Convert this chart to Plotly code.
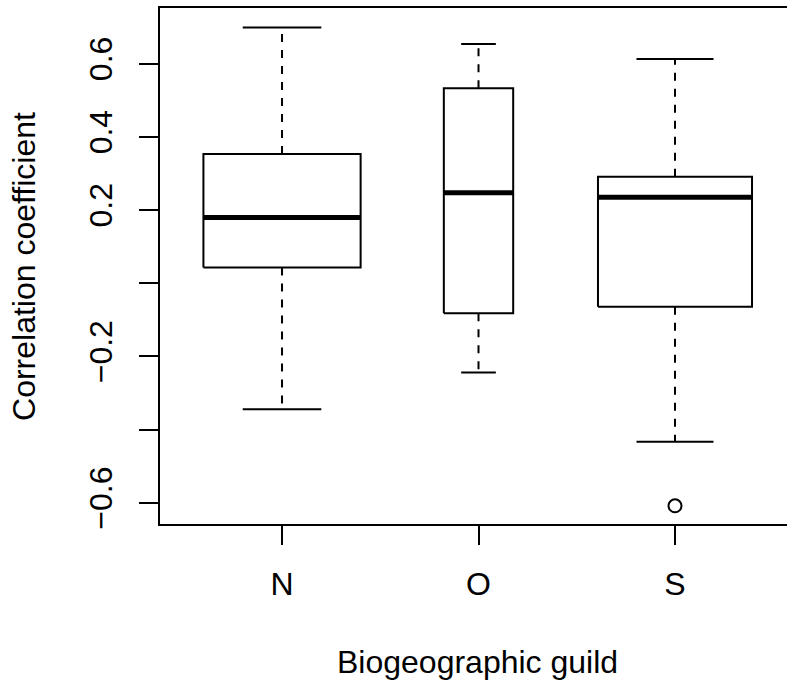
import plotly.graph_objects as go

# Summary statistics per biogeographic guild (box-and-whisker)
groups = ["N", "O", "S"]
upper_whisker = [0.699, 0.654, 0.613]
q3 = [0.353, 0.533, 0.291]
median = [0.180, 0.2475, 0.235]
q1 = [0.043, -0.082, -0.064]
lower_whisker = [-0.344, -0.244, -0.433]
box_width = [0.80, 0.353, 0.784]          # relative to group size
outlier_group = ["S"]
outlier_value = [-0.608]

y_ticks = [-0.6, -0.4, -0.2, 0.0, 0.2, 0.4, 0.6]
y_tick_text = ["\u22120.6", "", "\u22120.2", "", "0.2", "0.4", "0.6"]

FONT = "Liberation Sans, Arial, sans-serif"
FS = 32
BLACK = "#000000"

fig = go.Figure()

for i, g in enumerate(groups):
    c = i + 1
    hw = box_width[i] / 2
    cap = box_width[i] / 4
    # box
    fig.add_trace(go.Scatter(
        x=[c - hw, c + hw, c + hw, c - hw, c - hw],
        y=[q1[i], q1[i], q3[i], q3[i], q1[i]],
        mode="lines", line=dict(color=BLACK, width=2),
        fill="toself", fillcolor="white", hoverinfo="skip"))
    # median
    fig.add_trace(go.Scatter(
        x=[c - hw, c + hw], y=[median[i], median[i]],
        mode="lines", line=dict(color=BLACK, width=5), hoverinfo="skip"))
    # dashed whiskers
    fig.add_trace(go.Scatter(
        x=[c, c], y=[q3[i], upper_whisker[i]],
        mode="lines", line=dict(color=BLACK, width=2, dash="8px,8px"), hoverinfo="skip"))
    fig.add_trace(go.Scatter(
        x=[c, c], y=[q1[i], lower_whisker[i]],
        mode="lines", line=dict(color=BLACK, width=2, dash="8px,8px"), hoverinfo="skip"))
    # whisker caps
    for w in (upper_whisker[i], lower_whisker[i]):
        fig.add_trace(go.Scatter(
            x=[c - cap, c + cap], y=[w, w],
            mode="lines", line=dict(color=BLACK, width=2), hoverinfo="skip"))

# outliers
fig.add_trace(go.Scatter(
    x=[groups.index(g) + 1 for g in outlier_group], y=outlier_value,
    mode="markers",
    marker=dict(symbol="circle-open", size=13, color=BLACK, line=dict(width=2)),
    hoverinfo="skip"))

fig.update_layout(
    width=787, height=681,
    margin=dict(l=160, r=0, t=8, b=157),
    paper_bgcolor="white", plot_bgcolor="white",
    showlegend=False,
    font=dict(family=FONT, size=FS, color=BLACK),
    xaxis=dict(
        range=[0.379, 3.570],
        tickmode="array", tickvals=[1, 2, 3], ticktext=groups,
        ticks="outside", ticklen=19, tickwidth=2, tickcolor=BLACK,
        showline=True, linecolor=BLACK, linewidth=2, mirror=True,
        showgrid=False, zeroline=False,
        ticklabelstandoff=12,
        tickfont=dict(family=FONT, size=FS, color=BLACK)),
    yaxis=dict(
        range=[-0.6577, 0.7522],
        tickmode="array", tickvals=y_ticks, ticktext=y_tick_text,
        tickangle=-90,
        ticks="outside", ticklen=19, tickwidth=2, tickcolor=BLACK,
        showline=True, linecolor=BLACK, linewidth=2, mirror=False,
        showgrid=False, zeroline=False,
        ticklabelstandoff=14,
        tickfont=dict(family=FONT, size=FS, color=BLACK)),
    annotations=[
        dict(text="Biogeographic guild", xref="paper", yref="paper",
             x=0.506, y=-0.267, xanchor="center", yanchor="middle",
             showarrow=False, font=dict(family=FONT, size=FS, color=BLACK)),
        dict(text="Correlation coefficient", xref="paper", yref="paper",
             x=-0.217, y=0.5, xanchor="center", yanchor="middle", textangle=-90,
             showarrow=False, font=dict(family=FONT, size=FS, color=BLACK)),
    ],
)

fig.write_html("out.html")
